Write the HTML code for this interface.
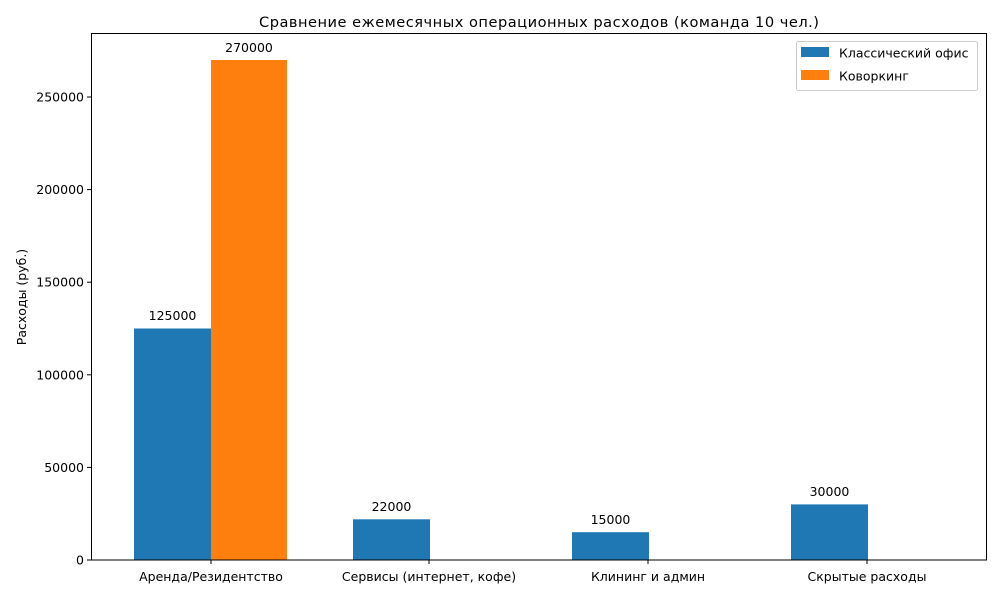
<!DOCTYPE html>
<html><head><meta charset="utf-8"><style>body{margin:0;background:#fff}svg{font-family:"DejaVu Sans","Liberation Sans",sans-serif}</style></head><body>
<svg width="1000" height="600" xmlns="http://www.w3.org/2000/svg">
<rect width="1000" height="600" fill="#fff"/>
<text x="539" y="27" font-size="14.6" text-anchor="middle" textLength="560" lengthAdjust="spacing">Сравнение ежемесячных операционных расходов (команда 10 чел.)</text>
<g fill="#1f77b4">
<rect x="134" y="328.5" width="77" height="231.5"/>
<rect x="353" y="519.3" width="77" height="40.7"/>
<rect x="572" y="532.2" width="77" height="27.8"/>
<rect x="791" y="504.4" width="77" height="55.6"/>
</g>
<rect x="211" y="60" width="76" height="500" fill="#ff7f0e"/>
<rect x="91.5" y="33.5" width="895" height="526.5" fill="none" stroke="#000" stroke-width="1"/>
<g font-size="12.5" text-anchor="middle">
<text x="172.5" y="320">125000</text>
<text x="249" y="52">270000</text>
<text x="391.5" y="511">22000</text>
<text x="610.5" y="524">15000</text>
<text x="829.5" y="496">30000</text>
<text x="211" y="581">Аренда/Резидентство</text>
<text x="429" y="581">Сервисы (интернет, кофе)</text>
<text x="648" y="581">Клининг и админ</text>
<text x="867" y="581">Скрытые расходы</text>
</g>
<g stroke="#000"><line x1="211" y1="560" x2="211" y2="564"/><line x1="429" y1="560" x2="429" y2="564"/><line x1="648" y1="560" x2="648" y2="564"/><line x1="867" y1="560" x2="867" y2="564"/>
<line x1="87" y1="560" x2="91" y2="560"/><line x1="87" y1="467.4" x2="91" y2="467.4"/><line x1="87" y1="374.8" x2="91" y2="374.8"/><line x1="87" y1="282.2" x2="91" y2="282.2"/><line x1="87" y1="189.6" x2="91" y2="189.6"/><line x1="87" y1="97" x2="91" y2="97"/></g>
<g font-size="12.5" text-anchor="end">
<text x="84" y="564.5">0</text><text x="84" y="471.9">50000</text><text x="84" y="379.3">100000</text><text x="84" y="286.7">150000</text><text x="84" y="194.1">200000</text><text x="84" y="101.5">250000</text>
</g>
<text transform="translate(26,297) rotate(-90)" font-size="12.5" text-anchor="middle">Расходы (руб.)</text>
<rect x="796.5" y="41.5" width="181" height="49" rx="2" fill="#fff" stroke="#ccc"/>
<rect x="801" y="47" width="28" height="10" fill="#1f77b4"/>
<rect x="801" y="70" width="28" height="10" fill="#ff7f0e"/>
<text x="839" y="57.5" font-size="12.5">Классический офис</text>
<text x="839" y="80.5" font-size="12.5">Коворкинг</text>
</svg>
</body></html>
